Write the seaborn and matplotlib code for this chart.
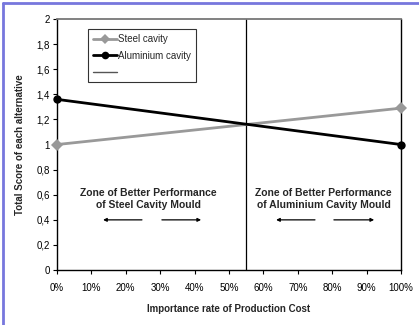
import matplotlib
matplotlib.use("Agg")
import matplotlib.pyplot as plt
from matplotlib.lines import Line2D
import seaborn as sns
import pandas as pd

# importance rate of production cost (0% and 100%)
rates = [0.0, 1.0]
steel_scores = [1.0, 1.29]
alu_scores = [1.36, 1.0]
x_ticks = [i / 10 for i in range(11)]
x_labels = [f"{i * 10}%" for i in range(11)]
y_ticks = [0, 0.2, 0.4, 0.6, 0.8, 1.0, 1.2, 1.4, 1.6, 1.8, 2.0]
y_labels = ["0", "0,2", "0,4", "0,6", "0,8", "1", "1,2", "1,4", "1,6", "1,8", "2"]
break_even = 0.55

df = pd.DataFrame({
    "rate": rates + rates,
    "score": steel_scores + alu_scores,
    "alt": ["Steel cavity"] * 2 + ["Aluminium cavity"] * 2,
})

sns.set_style("white")
plt.rcParams["font.family"] = ["Liberation Sans", "DejaVu Sans"]

fig = plt.figure(figsize=(4.19, 3.25), dpi=100)
ax = fig.add_axes([0.136, 0.169, 0.821, 0.7725])

sns.lineplot(data=df, x="rate", y="score", hue="alt", style="alt",
             palette={"Steel cavity": "#999999", "Aluminium cavity": "black"},
             markers={"Steel cavity": "D", "Aluminium cavity": "o"},
             dashes=False, linewidth=2, markersize=6, markeredgewidth=0,
             legend=False, ax=ax, clip_on=False, zorder=3)

ax.axvline(break_even, color="black", lw=0.9)

ax.set_xlim(0, 1)
ax.set_ylim(0, 2)
ax.set_xticks(x_ticks)
ax.set_xticklabels(x_labels, fontsize=7)
ax.set_yticks(y_ticks)
ax.set_yticklabels(y_labels, fontsize=7)
ax.tick_params(axis="x", direction="out", length=3, width=0.8, pad=6, colors="black")
ax.tick_params(axis="y", direction="out", length=3, width=0.8, pad=2, colors="black")
ax.tick_params(left=True, bottom=True)

for s in ["left", "bottom", "right"]:
    ax.spines[s].set_color("black")
    ax.spines[s].set_linewidth(1.0)
ax.spines["top"].set_color("#777777")
ax.spines["top"].set_linewidth(1.3)

ax.set_xlabel("Importance rate of Production Cost", fontsize=7, fontweight="bold", labelpad=8)
ax.set_ylabel("Total Score of each alternative", fontsize=7, fontweight="bold", labelpad=8)

# zone annotations
for cx, lines in [(0.265, ["Zone of Better Performance", "of Steel Cavity Mould"]),
                  (0.775, ["Zone of Better Performance", "of Aluminium Cavity Mould"])]:
    ax.text(cx, 0.565, "\n".join(lines), ha="center", va="center", fontsize=7.5,
            fontweight="bold", linespacing=1.25)
arrows = [(0.247, 0.134), (0.305, 0.419), (0.75, 0.637), (0.805, 0.922)]
for x0, x1 in arrows:
    ax.annotate("", xy=(x1, 0.4), xytext=(x0, 0.4),
                arrowprops=dict(arrowstyle="-|>", color="black", lw=0.9,
                                mutation_scale=5, shrinkA=0, shrinkB=0))

handles = [
    Line2D([], [], color="#999999", lw=2, marker="D", markersize=5, markeredgewidth=0),
    Line2D([], [], color="black", lw=2, marker="o", markersize=5.5, markeredgewidth=0),
    Line2D([], [], color="#555555", lw=1),
]
leg = ax.legend(handles, ["Steel cavity", "Aluminium cavity", ""], loc="upper left",
                bbox_to_anchor=(0.09, 0.96), fontsize=7, frameon=True, fancybox=False,
                handlelength=2.5, handletextpad=0.1, borderpad=0.5, labelspacing=0.7,
                borderaxespad=0)
leg.get_frame().set_edgecolor("black")
leg.get_frame().set_linewidth(0.8)

# outer border (left and top)
fig.add_artist(Line2D([0.008, 0.008], [0, 0.99], color="#7777dd", lw=2, transform=fig.transFigure))
fig.add_artist(Line2D([0.008, 1], [0.99, 0.99], color="#7777dd", lw=2, transform=fig.transFigure))

fig.savefig("out.png", dpi=100)
